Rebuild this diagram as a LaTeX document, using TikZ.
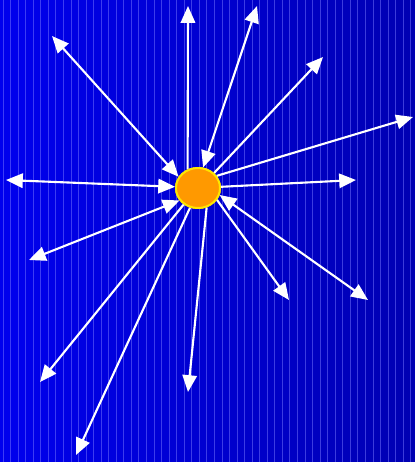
\documentclass[tikz,border=0pt]{standalone}
\usepackage{tikz}
\usetikzlibrary{arrows.meta, shapes.geometric}
\definecolor{skyleft}{RGB}{0, 0, 238}
\definecolor{skyright}{RGB}{0, 0, 178}
\definecolor{stripeblue}{RGB}{120, 120, 255}
\definecolor{sunorange}{RGB}{255, 153, 0}
\definecolor{sunrim}{RGB}{255, 230, 0}
\tikzset{
  sun/.style={
    ellipse,
    draw=sunrim,
    line width=1.4pt,
    fill=sunorange,
    minimum width=1.1cm,
    minimum height=1cm,
    inner sep=0pt
  },
  ray/.style={
    draw=white,
    line width=1.5pt,
    -{Triangle[length=4.2mm, width=3.6mm]}
  },
  tworay/.style={
    draw=white,
    line width=1.5pt,
    {Triangle[length=4.2mm, width=3.6mm]}-{Triangle[length=4.2mm, width=3.6mm]}
  }
}

\begin{document}
\begin{tikzpicture}[x=0.025cm, y=-0.025cm]
          % background
          \useasboundingbox (0, 0) rectangle (415, 462);
          \shade[left color=skyleft, right color=skyright] (0, 0) rectangle (415, 462);
          \foreach \i in {0,...,54}
            \draw[stripeblue, opacity=0.5, line width=0.6pt] ({3 + 7.55*\i}, 0) -- ({3 + 7.55*\i}, 462);

          \node[sun] (sun) at (198, 188) {};

          % outer tips
          \coordinate (n) at (188, 6);
          \coordinate (nne) at (257, 6);
          \coordinate (ne) at (323, 57);
          \coordinate (ene) at (413, 117);
          \coordinate (e) at (356, 180);
          \coordinate (se) at (368, 300);
          \coordinate (sse) at (289, 300);
          \coordinate (s) at (188, 392);
          \coordinate (ssw) at (76, 455);
          \coordinate (sw) at (40, 382);
          \coordinate (wsw) at (29, 260);
          \coordinate (w) at (6, 180);
          \coordinate (nw) at (52, 36);

          \draw[ray] (sun.119) -- (n);
          \draw[tworay] (sun.76) -- (nne);
          \draw[ray] (sun.43) -- (ne);
          \draw[ray] (sun.33) -- (ene);
          \draw[ray] (sun.3) -- (e);
          \draw[tworay] (sun.-18) -- (se);
          \draw[ray] (sun.-32) -- (sse);
          \draw[ray] (sun.-66) -- (s);
          \draw[ray] (sun.-112) -- (ssw);
          \draw[ray] (sun.-131) -- (sw);
          \draw[tworay] (sun.-146) -- (wsw);
          \draw[tworay] (sun.177) -- (w);
          \draw[tworay] (sun.150) -- (nw);

          % sun again on top of the rays
          \node[sun] at (sun) {};
        \end{tikzpicture}
\end{document}
